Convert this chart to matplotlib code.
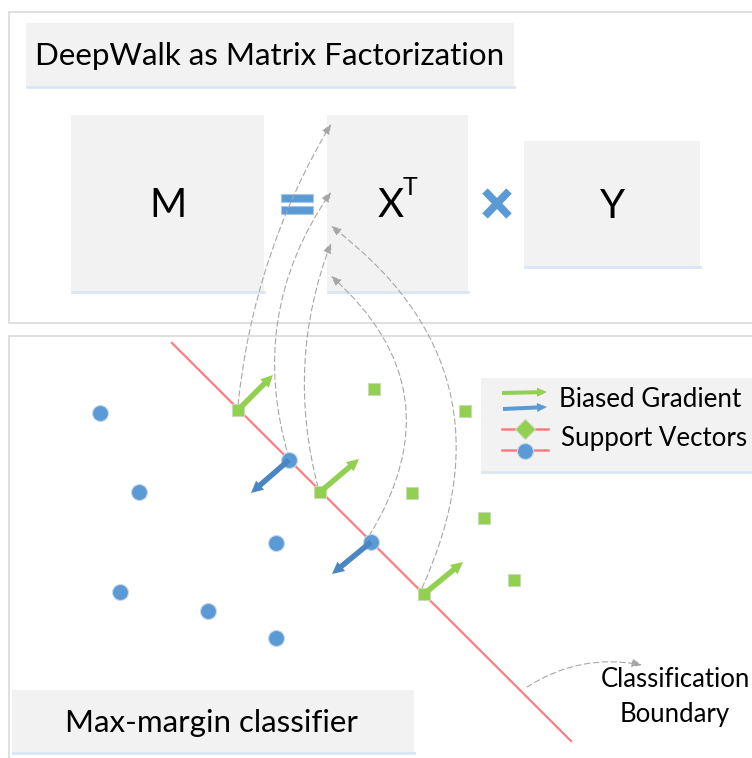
import matplotlib.pyplot as plt
from matplotlib.patches import Rectangle, FancyArrowPatch

plt.rcParams['font.family'] = ['Lato', 'DejaVu Sans']

# everything is laid out in picture pixels (x right, y down)
blue_x = [100, 139, 276, 120, 208, 276]
blue_y = [413, 492, 543, 592, 611, 638]
green_x = [374, 465, 412, 484, 514]
green_y = [389, 411, 493, 518, 580]

# support vectors sitting on the boundary
sv_green_x = [238, 320, 424]
sv_green_y = [410, 492, 594]
sv_blue_x = [289, 371]
sv_blue_y = [460, 542]

# biased gradient vectors (dx, dy)
grad_green = [(35, -35), (39, -33), (39, -32)]
grad_blue = [(-38, 33), (-39, 32)]

boundary_x = [172, 571]
boundary_y = [343, 741]

# dashed links from each support vector to a row of X^T
link_src = [(238, 405), (289, 458), (318, 487), (369, 536), (422, 588)]
link_dst = [(331, 124), (331, 192), (331, 243), (331, 276), (331, 226)]
link_rad = [-0.11, -0.24, -0.16, 0.42, 0.4]

GREEN = '#92d050'
BLUE = '#5b9bd5'
DBLUE = '#4a86c2'
RED = '#ff7c80'
BOXC = '#f2f2f2'
SHADOW = '#dae5f3'

fig = plt.figure(figsize=(7.52, 7.58), dpi=100)
ax = fig.add_axes([0, 0, 1, 1])
ax.set_xlim(0, 752)
ax.set_ylim(758, 0)
ax.axis('off')


def box(x0, y0, x1, y1):
    ax.add_patch(Rectangle((x0, y0), x1 - x0, y1 - y0, fc=BOXC, ec='none', zorder=1))
    ax.plot([x0 + 1, x1], [y1 + 1, y1 + 1], color=SHADOW, lw=2, zorder=1)


# panels
ax.add_patch(Rectangle((9, 12), 760, 311, fc='white', ec='#d9d9d9', lw=1.2, zorder=0))
ax.add_patch(Rectangle((9, 336), 760, 440, fc='white', ec='#d9d9d9', lw=1.2, zorder=0))

# top panel
box(26, 23, 514, 86)
ax.text(270, 65, 'DeepWalk as Matrix Factorization', ha='center', va='baseline', fontsize=22.6, zorder=3)
box(71, 115, 264, 291)
box(327, 115, 468, 291)
box(524, 141, 700, 266)
ax.text(168, 217, 'M', ha='center', va='baseline', fontsize=29, zorder=3)
ax.text(391, 217, 'X', ha='center', va='baseline', fontsize=29, zorder=3)
ax.text(410, 195, 'T', ha='center', va='baseline', fontsize=18, zorder=3)
ax.text(612, 218, 'Y', ha='center', va='baseline', fontsize=29, zorder=3)

ax.add_patch(Rectangle((281, 194), 32, 8, fc=BLUE, ec='#a9c6e8', lw=0.8, zorder=3))
ax.add_patch(Rectangle((281, 206), 32, 8, fc=BLUE, ec='#a9c6e8', lw=0.8, zorder=3))
ax.plot([485, 509], [191, 216], color=BLUE, lw=5.5, solid_capstyle='butt', zorder=3)
ax.plot([485, 509], [216, 191], color=BLUE, lw=5.5, solid_capstyle='butt', zorder=3)

# bottom panel
ax.plot(boundary_x, boundary_y, color=RED, lw=1.6, zorder=2)

for (sx, sy), (ex, ey), r in zip(link_src, link_dst, link_rad):
    ax.add_patch(FancyArrowPatch((sx, sy), (ex, ey), connectionstyle=f'arc3,rad={r}',
                                 arrowstyle='-|>,head_length=1.2,head_width=0.5', mutation_scale=5,
                                 color='#a6a6a6', lw=0.8, ls=(0, (5, 3)), shrinkA=0, shrinkB=0, zorder=4))

for (x, y), (dx, dy) in zip(zip(sv_green_x, sv_green_y), grad_green):
    ax.arrow(x, y, dx, dy, width=5.5, head_width=12, head_length=12, length_includes_head=True,
             fc=GREEN, ec='none', zorder=6)
for (x, y), (dx, dy) in zip(zip(sv_blue_x, sv_blue_y), grad_blue):
    ax.arrow(x, y, dx, dy, width=5.5, head_width=12, head_length=12, length_includes_head=True,
             fc=DBLUE, ec='none', zorder=6)

ax.plot(blue_x, blue_y, 'o', ms=11.5, mfc=BLUE, mec='#c9d7e8', mew=0.8, zorder=5)
ax.plot(sv_blue_x, sv_blue_y, 'o', ms=11.5, mfc=BLUE, mec='#c9d7e8', mew=0.8, zorder=5)
ax.plot(green_x, green_y, 's', ms=8.6, mfc=GREEN, mec='#c8d8b8', mew=0.8, zorder=5)
ax.plot(sv_green_x, sv_green_y, 's', ms=8.6, mfc=GREEN, mec='#c8d8b8', mew=0.8, zorder=5)

# legend
box(481, 378, 760, 471)
ax.arrow(502, 393, 45, -1, width=4, head_width=9, head_length=10, length_includes_head=True,
         fc=GREEN, ec='none', zorder=6)
ax.arrow(503, 409, 44, -2, width=4, head_width=9, head_length=10, length_includes_head=True,
         fc=BLUE, ec='none', zorder=6)
ax.plot([502, 548], [429, 429], color=RED, lw=1.8, zorder=5)
ax.plot([502, 548], [450, 450], color=RED, lw=1.8, zorder=5)
ax.plot([525], [429], 'D', ms=10.2, mfc=GREEN, mec='#c8d8b8', mew=0.8, zorder=6)
ax.plot([525], [451], 'o', ms=11.5, mfc=BLUE, mec='#c9d7e8', mew=0.8, zorder=6)
ax.text(559, 407, 'Biased Gradient', ha='left', va='baseline', fontsize=18.7, zorder=7)
ax.text(561, 446, 'Support Vectors', ha='left', va='baseline', fontsize=18.6, zorder=7)

box(12, 690, 414, 752)
ax.text(211, 732, 'Max-margin classifier', ha='center', va='baseline', fontsize=22.5, zorder=3)

ax.add_patch(FancyArrowPatch((527, 687), (642, 665), connectionstyle='arc3,rad=-0.2',
                             arrowstyle='-|>,head_length=1.2,head_width=0.5', mutation_scale=5,
                             color='#a6a6a6', lw=0.8, ls=(0, (5, 3)), shrinkA=0, shrinkB=0, zorder=4))
ax.text(675, 687, 'Classification', ha='center', va='baseline', fontsize=18.5, zorder=7)
ax.text(675, 722, 'Boundary', ha='center', va='baseline', fontsize=18.5, zorder=7)

fig.savefig('out.png', dpi=100)
